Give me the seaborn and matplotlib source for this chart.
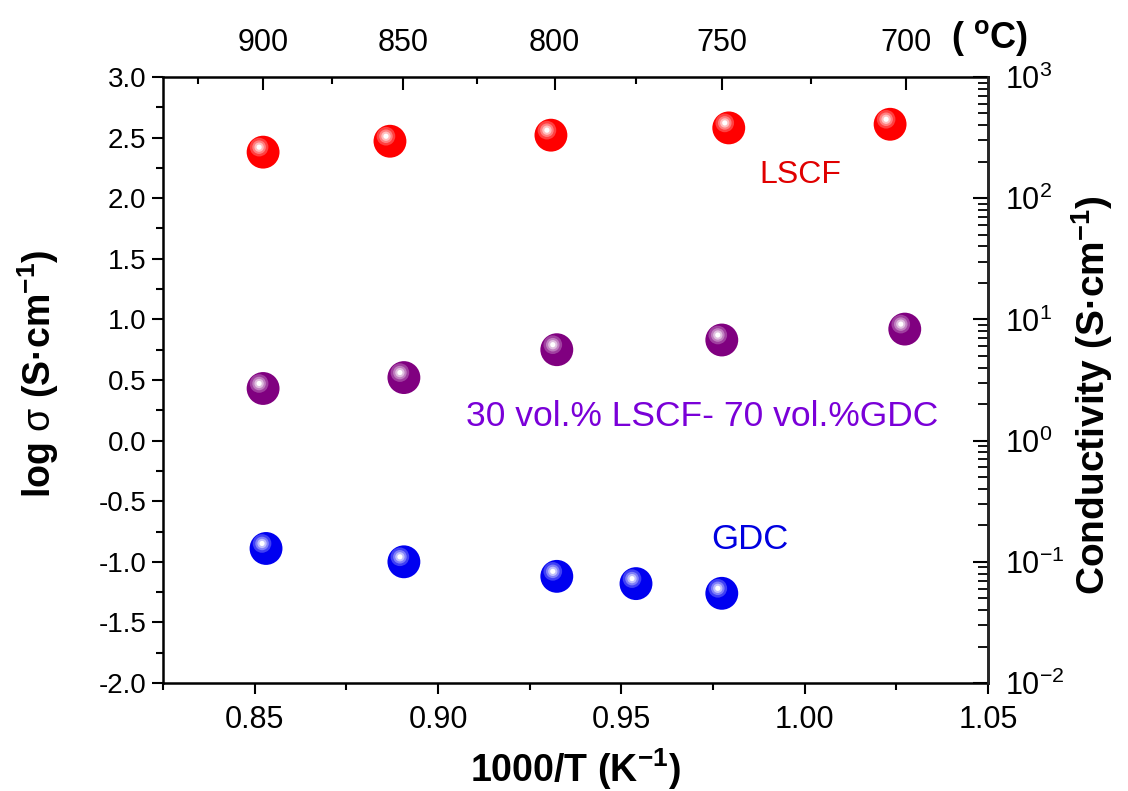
import numpy as np
import pandas as pd
import matplotlib
matplotlib.use("Agg")
import matplotlib.pyplot as plt
import matplotlib.transforms as mtransforms
from matplotlib.ticker import MultipleLocator, FixedLocator
import seaborn as sns

# ---- data ----
lscf_x = [0.8523, 0.8869, 0.9308, 0.9793, 1.0233]
lscf_y = [2.38, 2.47, 2.52, 2.58, 2.61]
mix_x = [0.8523, 0.8907, 0.9324, 0.9774, 1.0273]
mix_y = [0.43, 0.52, 0.75, 0.83, 0.92]
gdc_x = [0.8531, 0.8907, 0.9324, 0.9540, 0.9774]
gdc_y = [-0.89, -1.00, -1.12, -1.18, -1.26]
series_names = ["LSCF", "30 vol.% LSCF- 70 vol.%GDC", "GDC"]
x_ticks = [0.85, 0.90, 0.95, 1.00, 1.05]
x_ticklabels = ["0.85", "0.90", "0.95", "1.00", "1.05"]
y_ticks = [-2.0, -1.5, -1.0, -0.5, 0.0, 0.5, 1.0, 1.5, 2.0, 2.5, 3.0]
y_ticklabels = ["-2.0", "-1.5", "-1.0", "-0.5", "0.0", "0.5", "1.0", "1.5", "2.0", "2.5", "3.0"]
top_temps_major = [900, 850, 800, 750, 700]
top_temps_minor = [925, 875, 825, 775, 725]
right_decades = [-2, -1, 0, 1, 2, 3]

sns.set_style("ticks")
plt.rcParams["font.family"] = ["Liberation Sans", "DejaVu Sans"]
plt.rcParams["mathtext.fontset"] = "custom"
plt.rcParams["mathtext.rm"] = "Liberation Sans"
plt.rcParams["mathtext.bf"] = "Liberation Sans:bold"
plt.rcParams["mathtext.it"] = "Liberation Sans:italic"
plt.rcParams["mathtext.sf"] = "Liberation Sans"
plt.rcParams["text.color"] = "black"
plt.rcParams["axes.labelcolor"] = "black"
plt.rcParams["xtick.color"] = "black"
plt.rcParams["ytick.color"] = "black"

df = pd.concat([
    pd.DataFrame({"x": lscf_x, "y": lscf_y, "s": series_names[0]}),
    pd.DataFrame({"x": mix_x, "y": mix_y, "s": series_names[1]}),
    pd.DataFrame({"x": gdc_x, "y": gdc_y, "s": series_names[2]}),
])
marker_colors = {series_names[0]: "#FF0000", series_names[1]: "#800080", series_names[2]: "#0000F0"}
text_colors = {series_names[0]: "#E00000", series_names[1]: "#7A00D8", series_names[2]: "#0000E0"}

fig = plt.figure(figsize=(11.28, 7.91), dpi=100)
ax = fig.add_axes([163/1128, 1-683/791, (988-163)/1128, (683-77)/791])

msize = 560
sns.scatterplot(data=df, x="x", y="y", hue="s", palette=marker_colors, s=msize,
                edgecolor="none", legend=False, ax=ax, zorder=3)

# sphere highlight layers (offset toward upper-left)
trans = mtransforms.offset_copy(ax.transData, fig=fig, x=-4, y=5, units="dots")
for name, xs, ys in [(series_names[0], lscf_x, lscf_y), (series_names[1], mix_x, mix_y),
                     (series_names[2], gdc_x, gdc_y)]:
    base = np.array(matplotlib.colors.to_rgb(marker_colors[name]))
    for frac, sz in [(0.25, 180), (0.5, 95), (0.75, 45), (1.0, 14)]:
        c = base + (1 - base) * frac
        ax.scatter(xs, ys, s=sz, color=c, edgecolor="none", transform=trans, zorder=4)

ax.set_xlim(0.825, 1.05)
ax.set_ylim(-2.0, 3.0)
ax.xaxis.set_minor_locator(MultipleLocator(0.025))
ax.yaxis.set_minor_locator(MultipleLocator(0.25))
ax.set_xticks(x_ticks)
ax.set_xticklabels(x_ticklabels, fontsize=22)
ax.set_yticks(y_ticks)
ax.set_yticklabels(y_ticklabels, fontsize=20)
ax.tick_params(axis="both", which="major", direction="out", length=8, width=1.5, pad=4)
ax.tick_params(axis="x", which="major", pad=8)
ax.tick_params(axis="both", which="minor", direction="out", length=5, width=1.5)
ax.tick_params(top=False, right=False, which="both")
for sp in ax.spines.values():
    sp.set_linewidth(1.8)
    sp.set_color("black")

ax.set_xlabel("1000/T (K$^{\\mathbf{-1}}$)", fontsize=27, fontweight="bold", labelpad=8)
ax.set_ylabel("log $\\mathrm{\\sigma}$ (S·cm$^{\\mathbf{-1}}$)", fontsize=27, fontweight="bold")
ax.yaxis.set_label_coords(-0.124, 0.51)

# text labels
ax.text(0.9987, 2.19, series_names[0], color=text_colors[series_names[0]], fontsize=23,
        ha="center", va="center")
ax.text(0.972, 0.195, series_names[1], color=text_colors[series_names[1]], fontsize=25.5,
        ha="center", va="center")
ax.text(0.985, -0.82, series_names[2], color=text_colors[series_names[2]], fontsize=25,
        ha="center", va="center")

# top axis: temperature
ax_top = ax.twiny()
ax_top.set_xlim(ax.get_xlim())
ax_top.xaxis.set_major_locator(FixedLocator([1000 / (t + 273.15) for t in top_temps_major]))
ax_top.xaxis.set_minor_locator(FixedLocator([1000 / (t + 273.15) for t in top_temps_minor]))
ax_top.set_xticklabels([str(t) for t in top_temps_major], fontsize=22)
ax_top.tick_params(axis="x", which="major", direction="in", length=9, width=1.5, pad=14)
ax_top.tick_params(axis="x", which="minor", direction="in", length=5, width=1.5)
ax_top.tick_params(axis="y", left=False, right=False, labelleft=False, labelright=False)
for sp in ax_top.spines.values():
    sp.set_visible(False)
fig.text(990/1128, 1-38/791, "( $^{\\mathbf{o}}$C)", fontsize=26, fontweight="bold",
         ha="center", va="center")

# right axis: conductivity, log10 decades aligned with log sigma
ax_r = ax.twinx()
ax_r.set_ylim(ax.get_ylim())
ax_r.set_yticks(right_decades)
ax_r.set_yticklabels([f"$\\mathregular{{10^{{{e}}}}}$" for e in right_decades], fontsize=22)
ax_r.set_yticks([e + np.log10(m) for e in right_decades[:-1] for m in range(2, 10)], minor=True)
ax_r.tick_params(axis="y", which="both", left=False, right=True)
ax_r.tick_params(axis="y", which="major", direction="in", length=11, width=1.5, pad=12)
ax_r.tick_params(axis="y", which="minor", direction="in", length=7, width=1.3)
ax_r.tick_params(axis="x", top=False, bottom=False, labeltop=False, labelbottom=False)
for sp in ax_r.spines.values():
    sp.set_visible(False)
ax_r.spines["right"].set_visible(True)
ax_r.spines["right"].set_linewidth(1.8)
ax_r.set_ylabel("Conductivity (S·cm$^{\\mathbf{-1}}$)", fontsize=28, fontweight="bold")
ax_r.yaxis.set_label_coords(1.098, 0.475)

fig.savefig("out.png", dpi=100)
